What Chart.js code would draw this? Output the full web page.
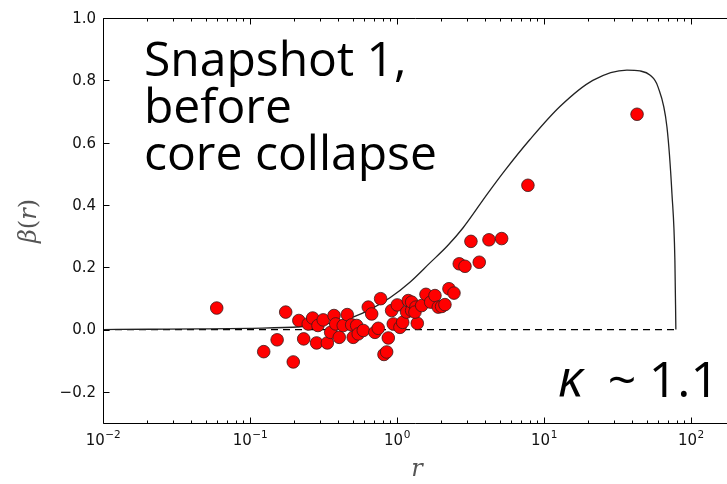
<!DOCTYPE html>
<html>
<head>
<meta charset="utf-8">
<script src="https://cdn.jsdelivr.net/npm/chart.js@4/dist/chart.umd.min.js"></script>
<style>
  html, body { margin: 0; padding: 0; background: #fff; overflow: hidden; }
  #wrap { width: 727px; height: 484px; }
</style>
</head>
<body>
<div id="wrap"><canvas id="c" width="727" height="484"></canvas></div>
<script>
// Measured anisotropy per star (radius r, beta)
const pointR = [0.0594, 0.124, 0.153, 0.175, 0.197, 0.215, 0.232, 0.249, 0.267, 0.284,
  0.290, 0.315, 0.336, 0.354, 0.373, 0.383, 0.405, 0.431, 0.459, 0.492,
  0.504, 0.532, 0.545, 0.590, 0.638, 0.673, 0.708, 0.746, 0.774, 0.816,
  0.851, 0.873, 0.920, 0.944, 1.005, 1.048, 1.094, 1.164, 1.194, 1.259,
  1.259, 1.346, 1.375, 1.326, 1.473, 1.575, 1.696, 1.814, 1.910, 2.014,
  2.121, 2.258, 2.443, 2.654, 2.902, 3.186, 3.630, 4.227, 5.155, 7.78, 43.0];
const pointBeta = [0.069, -0.071, -0.033, 0.056, -0.104, 0.029, -0.030, 0.018, 0.037, -0.043,
  0.013, 0.031, -0.043, -0.009, 0.045, 0.018, -0.025, 0.013, 0.048, 0.015,
  -0.025, 0.013, -0.014, -0.003, 0.072, 0.050, -0.009, 0.004, 0.099, -0.080,
  -0.072, -0.027, 0.061, 0.018, 0.079, 0.007, 0.023, 0.056, 0.093, 0.061,
  0.088, 0.072, 0.020, 0.056, 0.077, 0.113, 0.088, 0.109, 0.072, 0.074,
  0.080, 0.131, 0.117, 0.211, 0.203, 0.283, 0.216, 0.288, 0.292, 0.463, 0.691];

// Model anisotropy profile
const curveR = [0.01, 0.0209, 0.0457, 0.1, 0.219, 0.367, 0.502, 0.655, 0.896, 1.225,
  1.677, 2.20, 2.81, 4.10, 5.43, 8.03, 12.85, 21.5, 36.7, 45.0, 52.6,
  59.7, 68.7, 74.3, 77.8, 79.0];
const curveBeta = [0.000, 0.001, 0.002, 0.004, 0.009, 0.022, 0.040, 0.064, 0.102, 0.152,
  0.214, 0.268, 0.326, 0.434, 0.511, 0.610, 0.716, 0.800, 0.833, 0.830, 0.817,
  0.779, 0.650, 0.436, 0.222, 0.000];

// Isotropic reference (beta = 0)
const zeroR = [0.01, 79.0];
const zeroBeta = [0, 0];

const xRange = [0.01, 176];
const yRange = [-0.3, 1.0];
const xTickExponents = [-2, -1, 0, 1, 2];
const yTickValues = [-0.2, 0.0, 0.2, 0.4, 0.6, 0.8, 1.0];
const yTickLabels = ['\u22120.2', '0.0', '0.2', '0.4', '0.6', '0.8', '1.0'];

const pairs = (xs, ys) => xs.map((v, i) => ({ x: v, y: ys[i] }));

const axesPlugin = {
  id: 'axesFrame',
  afterDraw(chart) {
    const { ctx, chartArea: a, scales: { x, y } } = chart;
    ctx.save();
    ctx.strokeStyle = '#000';
    ctx.lineWidth = 1;
    const seg = (x1, y1, x2, y2) => { ctx.beginPath(); ctx.moveTo(x1, y1); ctx.lineTo(x2, y2); ctx.stroke(); };
    const L = Math.round(a.left) + 0.5, T = Math.round(a.top) + 0.5, B = Math.round(a.bottom) + 0.5;
    seg(a.right + 2, T, L, T);
    seg(L, T, L, B);
    seg(L, B, a.right + 2, B);

    // log ticks, pointing inward on bottom and top
    xTickExponents.forEach(e => {
      for (let m = 1; m <= 9; m++) {
        const v = m * Math.pow(10, e);
        if (v < xRange[0] || v > xRange[1]) continue;
        const px = Math.round(x.getPixelForValue(v)) + 0.5;
        const len = m === 1 ? 6 : 3;
        seg(px, B, px, B - len);
        seg(px, T, px, T + len);
      }
    });
    yTickValues.forEach(v => {
      const py = Math.round(y.getPixelForValue(v)) + 0.5;
      seg(L, py, L + 6, py);
    });

    // tick labels
    ctx.fillStyle = '#111';
    ctx.font = '15px "DejaVu Sans"';
    ctx.textAlign = 'right';
    ctx.textBaseline = 'middle';
    yTickValues.forEach((v, i) => {
      ctx.fillText(yTickLabels[i], a.left - 7, y.getPixelForValue(v) + 1);
    });
    ctx.textBaseline = 'alphabetic';
    ctx.textAlign = 'left';
    xTickExponents.forEach(e => {
      const base = '10';
      const sup = (e < 0 ? '\u2212' : '') + Math.abs(e);
      ctx.font = '15px "DejaVu Sans"';
      const wb = ctx.measureText(base).width;
      ctx.font = '10.5px "DejaVu Sans"';
      const ws = ctx.measureText(sup).width;
      const cx = x.getPixelForValue(Math.pow(10, e));
      const x0 = cx - (wb + ws) / 2;
      ctx.font = '15px "DejaVu Sans"';
      ctx.fillText(base, x0, 445);
      ctx.font = '10.5px "DejaVu Sans"';
      ctx.fillText(sup, x0 + wb + 0.5, 438);
    });

    // axis titles
    ctx.fillStyle = '#555';
    ctx.font = 'italic 24px "DejaVu Serif"';
    ctx.textAlign = 'center';
    ctx.fillText('r', 417, 476);
    ctx.save();
    ctx.translate(36, 221);
    ctx.rotate(-Math.PI / 2);
    ctx.textAlign = 'left';
    const parts = [['italic 24px "DejaVu Serif"', '\u03b2'], ['24px "DejaVu Serif"', '('],
                   ['italic 24px "DejaVu Serif"', 'r'], ['24px "DejaVu Serif"', ')']];
    let total = 0;
    parts.forEach(p => { ctx.font = p[0]; total += ctx.measureText(p[1]).width; });
    let cx = -total / 2;
    parts.forEach(p => { ctx.font = p[0]; ctx.fillText(p[1], cx, 0); cx += ctx.measureText(p[1]).width; });
    ctx.restore();

    // annotations
    ctx.fillStyle = '#000';
    ctx.textAlign = 'left';
    ctx.font = '48px "Open Sans"';
    ctx.fillText('Snapshot 1,', 144, 76);
    ctx.fillText('before', 144, 123);
    ctx.fillText('core collapse', 144, 170);
    ctx.font = 'italic 52px "Open Sans"';
    ctx.fillText('\u03ba', 558, 397);
    ctx.font = '50px "Open Sans"';
    ctx.textAlign = 'center';
    ctx.fillText('~', 622, 397);
    ctx.textAlign = 'right';
    ctx.fillText('1.1', 719, 397);
    ctx.restore();
  }
};

new Chart(document.getElementById('c'), {
  type: 'scatter',
  data: {
    datasets: [
      {
        data: pairs(pointR, pointBeta),
        backgroundColor: '#ff0000',
        borderColor: '#3a1a1a',
        borderWidth: 0.8,
        pointRadius: 6.3,
        order: 0
      },
      {
        data: pairs(curveR, curveBeta),
        showLine: true,
        borderColor: '#222',
        borderWidth: 1.3,
        pointRadius: 0,
        cubicInterpolationMode: 'monotone',
        order: 1
      },
      {
        data: pairs(zeroR, zeroBeta),
        showLine: true,
        borderColor: '#000',
        borderWidth: 1.2,
        borderDash: [7, 5],
        pointRadius: 0,
        order: 2
      }
    ]
  },
  options: {
    responsive: false,
    animation: false,
    layout: { autoPadding: false, padding: { left: 103, top: 18, right: 0, bottom: 61 } },
    scales: {
      x: { type: 'logarithmic', min: xRange[0], max: xRange[1], display: false },
      y: { type: 'linear', min: yRange[0], max: yRange[1], display: false }
    },
    plugins: { legend: { display: false }, tooltip: { enabled: false } }
  },
  plugins: [axesPlugin]
});
</script>
</body>
</html>
